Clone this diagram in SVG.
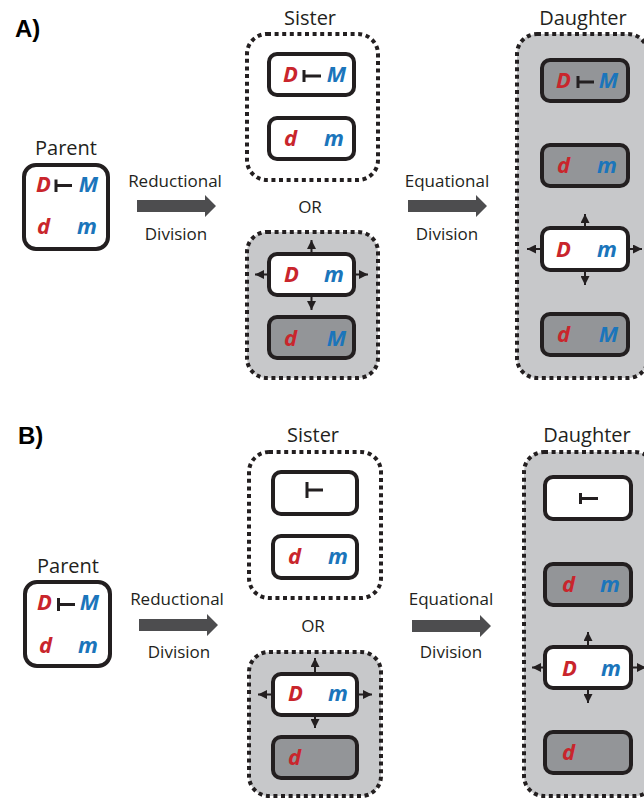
<svg xmlns="http://www.w3.org/2000/svg" width="644" height="801" viewBox="0 0 644 801">
<style>
.lbl{font-family:"Open Sans","Liberation Sans",sans-serif;font-size:20px;fill:#231f20;text-anchor:middle}
.sm{font-family:"Open Sans","Liberation Sans",sans-serif;font-size:17px;fill:#231f20;text-anchor:middle}
.pn{font-family:"Liberation Sans",Arial,sans-serif;font-size:24px;font-weight:bold;fill:#000}
.g{font-family:"Open Sans","Liberation Sans",sans-serif;font-size:22px;font-weight:bold;font-style:italic}
.r{fill:#c9252c}
.b{fill:#1b75bb}
.e{text-anchor:end}
.dot{fill:none;stroke:#231f20;stroke-width:4;stroke-dasharray:4 3.6}
.dotg{fill:#c7c8ca;stroke:#231f20;stroke-width:4;stroke-dasharray:4 3.6}
.bw{fill:#fff;stroke:#231f20;stroke-width:4}
.bg{fill:#939598;stroke:#231f20;stroke-width:4}
.inh{fill:none;stroke:#231f20;stroke-width:3}
.sa{fill:none;stroke:#231f20;stroke-width:2;marker-end:url(#ah)}
.big{fill:#4d4d4f}
</style>
<defs>
<marker id="ah" viewBox="0 0 10 10" refX="10" refY="5" markerWidth="9" markerHeight="9" markerUnits="userSpaceOnUse" orient="auto"><path d="M0,0 L10,5 L0,10 Z" fill="#231f20"/></marker>
<path id="bigarrow" d="M0,-6 H68 V-11 L79,0 L68,11 V6 H0 Z"/>
</defs>

<!-- Panel A -->
<text class="pn" x="15" y="37">A)</text>

<g id="parentA">
<text class="lbl" x="66" y="155">Parent</text>
<rect class="bw" x="24" y="165" width="84" height="84" rx="12"/>
<text class="g r" x="36" y="192">D</text>
<path class="inh" d="M56,179.5 V192 M56,185.5 H72"/>
<text class="g b e" x="98" y="192">M</text>
<text class="g r" x="37" y="234">d</text>
<text class="g b e" x="97" y="234">m</text>
</g>

<g id="sisterA">
<text class="lbl" x="310" y="25">Sister</text>
<rect class="dot" x="247" y="34" width="131" height="146" rx="20"/>
<rect class="bw" x="269" y="54" width="85" height="41" rx="8"/>
<text class="g r" x="283" y="82">D</text>
<path class="inh" d="M304,70 V82 M304,76 H321"/>
<text class="g b e" x="346" y="82">M</text>
<rect class="bw" x="269" y="118" width="85" height="41" rx="8"/>
<text class="g r" x="284" y="146">d</text>
<text class="g b e" x="344" y="146">m</text>
</g>

<text class="sm" x="310" y="213">OR</text>

<g id="sisterA2">
<rect class="dotg" x="247" y="232" width="131" height="146" rx="20"/>
<rect class="bw" x="269" y="254" width="85" height="41" rx="8"/>
<text class="g r" x="284" y="282">D</text>
<text class="g b e" x="344" y="282">m</text>
<rect class="bg" x="269" y="317" width="85" height="41" rx="8"/>
<text class="g r" x="284" y="346">d</text>
<text class="g b e" x="346" y="346">M</text>
</g>

<g id="daughterA">
<text class="lbl" x="583" y="25">Daughter</text>
<rect class="dotg" x="517" y="34" width="131" height="344" rx="20"/>
<rect class="bg" x="542" y="60" width="86" height="41" rx="8"/>
<text class="g r" x="556" y="88">D</text>
<path class="inh" d="M578,76 V88 M578,82 H594"/>
<text class="g b e" x="618" y="88">M</text>
<rect class="bg" x="542" y="145" width="86" height="41" rx="8"/>
<text class="g r" x="557" y="173">d</text>
<text class="g b e" x="617" y="173">m</text>
<rect class="bw" x="542" y="228" width="86" height="42" rx="8"/>
<text class="g r" x="556" y="257">D</text>
<text class="g b e" x="617" y="257">m</text>
<rect class="bg" x="542" y="314" width="86" height="41" rx="8"/>
<text class="g r" x="557" y="342">d</text>
<text class="g b e" x="618" y="342">M</text>
</g>

<g id="labelsA">
<text class="sm" x="175" y="187">Reductional</text>
<text class="sm" x="176" y="240">Division</text>
<text class="sm" x="447" y="187">Equational</text>
<text class="sm" x="447" y="240">Division</text>
</g>

<!-- Panel B -->
<text class="pn" x="18" y="444">B)</text>

<g id="parentB">
<text class="lbl" x="68" y="573">Parent</text>
<rect class="bw" x="25" y="582" width="85" height="84" rx="12"/>
<text class="g r" x="37" y="610">D</text>
<path class="inh" d="M58.5,598 V611 M58.5,604.5 H75"/>
<text class="g b e" x="99" y="610">M</text>
<text class="g r" x="39" y="653">d</text>
<text class="g b e" x="98" y="653">m</text>
</g>

<g id="sisterB">
<text class="lbl" x="313" y="442">Sister</text>
<rect class="dot" x="249" y="452" width="132" height="146" rx="20"/>
<rect class="bw" x="273" y="472" width="84" height="42" rx="8"/>
<path class="inh" d="M307,482 V498 M307,490 H323"/>
<rect class="bw" x="273" y="536" width="84" height="42" rx="8"/>
<text class="g r" x="288" y="564">d</text>
<text class="g b e" x="348" y="564">m</text>
</g>

<text class="sm" x="313" y="632">OR</text>

<g id="sisterB2">
<rect class="dotg" x="249" y="652" width="132" height="144" rx="20"/>
<rect class="bw" x="273" y="674" width="84" height="41" rx="8"/>
<text class="g r" x="288" y="701">D</text>
<text class="g b e" x="348" y="701">m</text>
<rect class="bg" x="273" y="737" width="84" height="41" rx="8"/>
<text class="g r" x="288" y="765">d</text>
</g>

<g id="daughterB">
<text class="lbl" x="587" y="442">Daughter</text>
<rect class="dotg" x="524" y="452" width="131" height="344" rx="20"/>
<rect class="bw" x="545" y="477" width="86" height="42" rx="8"/>
<path class="inh" d="M580.5,493 V504 M580.5,498.5 H598"/>
<rect class="bg" x="545" y="564" width="86" height="41" rx="8"/>
<text class="g r" x="562" y="592">d</text>
<text class="g b e" x="620" y="592">m</text>
<rect class="bw" x="545" y="647" width="86" height="41" rx="8"/>
<text class="g r" x="562" y="676">D</text>
<text class="g b e" x="621" y="676">m</text>
<rect class="bg" x="545" y="732" width="86" height="41" rx="8"/>
<text class="g r" x="562" y="760">d</text>
</g>

<g id="labelsB">
<text class="sm" x="177" y="605">Reductional</text>
<text class="sm" x="179" y="658">Division</text>
<text class="sm" x="451" y="605">Equational</text>
<text class="sm" x="451" y="658">Division</text>
</g>

<g id="connectors">
<use href="#bigarrow" class="big" transform="translate(137,206)"/>
<use href="#bigarrow" class="big" transform="translate(408,206)"/>
<use href="#bigarrow" class="big" transform="translate(139,625)"/>
<use href="#bigarrow" class="big" transform="translate(412,626)"/>
<path class="sa" d="M311.5,252 V240"/>
<path class="sa" d="M311.5,297 V310"/>
<path class="sa" d="M267,274.5 H255"/>
<path class="sa" d="M356,274.5 H368"/>
<path class="sa" d="M585,226 V214"/>
<path class="sa" d="M585,272 V285"/>
<path class="sa" d="M540,249 H527"/>
<path class="sa" d="M630,249 H642"/>
<path class="sa" d="M315,672 V658"/>
<path class="sa" d="M315,717 V728"/>
<path class="sa" d="M271,694.5 H258"/>
<path class="sa" d="M359,694.5 H372"/>
<path class="sa" d="M588,645 V632"/>
<path class="sa" d="M588,690 V703"/>
<path class="sa" d="M543,667.5 H532"/>
<path class="sa" d="M633,667.5 H646"/>
</g>
</svg>
